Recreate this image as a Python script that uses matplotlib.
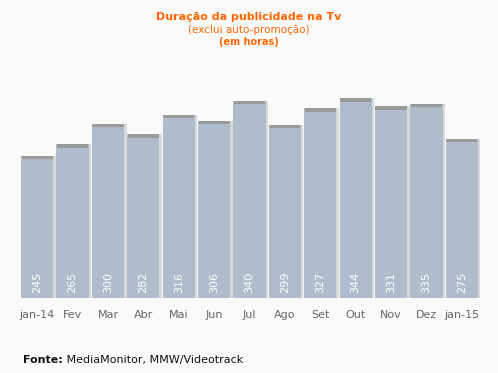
import matplotlib
matplotlib.use("Agg")
from matplotlib import pyplot as plt

months = ["jan-14", "Fev", "Mar", "Abr", "Mai", "Jun", "Jul", "Ago", "Set", "Out", "Nov", "Dez", "jan-15"]
hours = [245, 265, 300, 282, 316, 306, 340, 299, 327, 344, 331, 335, 275]

bg = "#fafafa"
bar_color = "#afbccc"
cap_color = "#9a9a9a"
shadow_color = "#d8d8d8"

fig = plt.figure(figsize=(4.98, 3.73), dpi=100, facecolor=bg)
ax = fig.add_axes([19.5 / 498, 1 - 298 / 373, 460 / 498, 232 / 373])
ax.set_facecolor(bg)

x = range(len(months))
# shadow, bar body, darker cap on top
ax.bar([i + 0.07 for i in x], hours, width=0.91, color=shadow_color, zorder=1)
ax.bar(x, hours, width=0.91, color=bar_color, zorder=2)
ax.bar(x, [6] * len(hours), bottom=[h - 6 for h in hours], width=0.88, color=cap_color, zorder=3)

for i, h in enumerate(hours):
    ax.text(i, 8, str(h), rotation=90, ha="center", va="bottom", color="white", fontsize=8, zorder=4)

ax.set_xlim(-0.5, len(months) - 0.5)
ax.set_ylim(0, 400)
ax.set_yticks([])
ax.set_xticks(list(x))
ax.set_xticklabels(months, fontsize=8, color="#666666")
ax.tick_params(axis="x", length=0, pad=9)
for s in ax.spines.values():
    s.set_visible(False)

fig.text(0.5, 1 - 17 / 373, "Duração da publicidade na Tv", ha="center", va="center",
         color="#ff6600", fontsize=8, fontweight="bold")
fig.text(0.5, 1 - 30 / 373, "(exclui auto-promoção)", ha="center", va="center",
         color="#ff6600", fontsize=7.5)
fig.text(0.5, 1 - 42 / 373, "(em horas)", ha="center", va="center",
         color="#ff6600", fontsize=7, fontweight="bold")

fonte = fig.text(23 / 498, 1 - 360 / 373, "Fonte:", ha="left", va="center",
                 fontsize=8, color="#111111", fontweight="bold")
fig.canvas.draw()
fig.text(0, 0, " MediaMonitor, MMW/Videotrack", fontsize=8, color="#111111",
         ha="left", va="center", transform=matplotlib.transforms.offset_copy(
             fonte.get_transform(), fig=fig, x=0, y=0))
# place the second part right after the bold label
bb = fonte.get_window_extent()
fig.texts[-1].set_transform(fig.transFigure)
fig.texts[-1].set_position((bb.x1 / fig.bbox.width, 1 - 360 / 373))

fig.savefig("out.png", dpi=100, facecolor=bg)
